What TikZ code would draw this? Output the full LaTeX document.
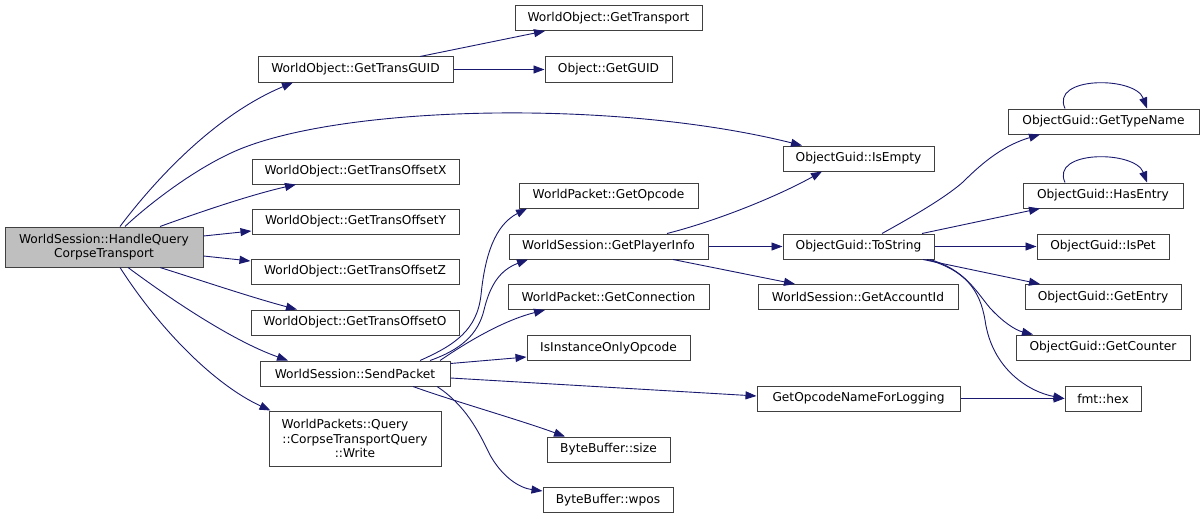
\documentclass[tikz,border=0pt]{standalone}
\usepackage{fontspec}
\setmainfont{DejaVu Sans}
\usetikzlibrary{arrows.meta,calc}
\definecolor{edgeblue}{HTML}{191970}
\definecolor{boxline}{HTML}{404040}
\definecolor{boxfill}{HTML}{BFBFBF}
\begin{document}
\begin{tikzpicture}[x=1pt,y=-1pt,
  box/.style={draw=boxline,line width=1pt,fill=white,inner sep=0pt,minimum height=25pt,align=center,
    font=\fontsize{12.2}{14.5}\selectfont},
  rootbox/.style={box,fill=boxfill},
  call/.style={draw=edgeblue,line width=0.9pt,-{Triangle[length=11pt,width=8pt]}}]
\useasboundingbox (0,0) rectangle (1204,519);
% nodes
\node[rootbox,minimum width=198pt,minimum height=40pt] (hq) at (104,247) {WorldSession::HandleQuery\\CorpseTransport};
\node[box,minimum width=195pt] (tgu) at (355.5,69.5) {WorldObject::GetTransGUID};
\node[box,minimum width=187pt] (tr) at (608.5,18) {WorldObject::GetTransport};
\node[box,minimum width=127pt] (guid) at (608.5,69.5) {Object::GetGUID};
\node[box,minimum width=151pt] (ie) at (858.5,158.5) {ObjectGuid::IsEmpty};
\node[box,minimum width=207pt] (ox) at (355.5,171.5) {WorldObject::GetTransOffsetX};
\node[box,minimum width=207pt] (oy) at (355.5,221.5) {WorldObject::GetTransOffsetY};
\node[box,minimum width=208pt] (oz) at (355,271.5) {WorldObject::GetTransOffsetZ};
\node[box,minimum width=208pt] (oo) at (355,322.5) {WorldObject::GetTransOffsetO};
\node[box,minimum width=190pt] (sp) at (355,373.5) {WorldSession::SendPacket};
\node[box,minimum width=172pt,minimum height=55pt] (wr) at (355,438.5) {WorldPackets::Query\hspace*{20pt}\\::CorpseTransportQuery\\::Write};
\node[box,minimum width=179pt] (op) at (608.5,195.5) {WorldPacket::GetOpcode};
\node[box,minimum width=199pt] (pi) at (608.5,246.5) {WorldSession::GetPlayerInfo};
\node[box,minimum width=201pt] (con) at (608.5,297) {WorldPacket::GetConnection};
\node[box,minimum width=163pt] (ioo) at (608.5,348) {IsInstanceOnlyOpcode};
\node[box,minimum width=123pt] (sz) at (608.5,449.5) {ByteBuffer::size};
\node[box,minimum width=130pt] (wp) at (608,500) {ByteBuffer::wpos};
\node[box,minimum width=151pt] (ts) at (858.5,246.5) {ObjectGuid::ToString};
\node[box,minimum width=200pt] (acc) at (858,297) {WorldSession::GetAccountId};
\node[box,minimum width=203pt] (log) at (858.5,398.5) {GetOpcodeNameForLogging};
\node[box,minimum width=191pt] (tn) at (1103.5,121.5) {ObjectGuid::GetTypeName};
\node[box,minimum width=160pt] (he) at (1103,195.5) {ObjectGuid::HasEntry};
\node[box,minimum width=132pt] (pet) at (1103,246.5) {ObjectGuid::IsPet};
\node[box,minimum width=156pt] (en) at (1103,297) {ObjectGuid::GetEntry};
\node[box,minimum width=174pt] (cnt) at (1103,347.5) {ObjectGuid::GetCounter};
\node[box,minimum width=76pt] (hex) at (1103,398.5) {fmt::hex};
% edges from HandleQueryCorpseTransport
\draw[call] ($(hq.north)+(16,0)$) .. controls (155,180) and (215,115) .. ($(tgu.south)+(-62.5,0)$);
\draw[call] ($(hq.north)+(21,0)$) .. controls (150,203) and (203,162) .. (248,146)
  .. controls (360,105) and (620,100) .. ($(ie.north)+(-56.5,0)$);
\draw[call] ($(hq.north)+(56,0)$) .. controls (200,212) and (250,195) .. ($(ox.south)+(-59.5,0)$);
\draw[call] ($(hq.east)+(0,-11)$) -- ($(oy.west)+(0,9.5)$);
\draw[call] ($(hq.east)+(0,9)$) -- ($(oz.west)+(0,-10.5)$);
\draw[call] ($(hq.south)+(56,0)$) .. controls (200,280) and (250,297) .. ($(oo.north)+(-58,0)$);
\draw[call] ($(hq.south)+(24,0)$) .. controls (165,295) and (230,340) .. ($(sp.north)+(-67,0)$);
\draw[call] ($(hq.south)+(16,0)$) .. controls (160,330) and (215,385) .. ($(wr.north west)+(2,0)$);
% GetTransGUID
\draw[call] ($(tgu.north)+(64.5,0)$) -- ($(tr.south)+(-63.5,0)$);
\draw[call] (tgu.east) -- (guid.west);
% SendPacket
\draw[call] ($(sp.north)+(65,0)$) .. controls (455,345) and (477,330) .. (481,295)
  .. controls (485,255) and (495,225) .. ($(op.south)+(-81.5,0)$);
\draw[call] ($(sp.north)+(75,0)$) .. controls (460,350) and (478,335) .. (484,310)
  .. controls (490,285) and (500,270) .. ($(pi.south)+(-80.5,0)$);
\draw[call] ($(sp.north)+(85,0)$) .. controls (470,340) and (505,320) .. ($(con.south)+(-63.5,0)$);
\draw[call] ($(sp.east)+(0,-10)$) -- ($(ioo.west)+(0,9)$);
\draw[call] ($(sp.east)+(0,4.5)$) -- ($(log.west)+(0,-2.5)$);
\draw[call] ($(sp.south)+(58,0)$) .. controls (450,400) and (520,420) .. ($(sz.north)+(-43.5,0)$);
\draw[call] ($(sp.south)+(82,0)$) .. controls (465,405) and (478,430) .. (490,455)
  .. controls (503,478) and (520,488) .. ($(wp.west)+(0,-9)$);
% GetPlayerInfo
\draw[call] ($(pi.north)+(58.5,0)$) .. controls (720,220) and (780,195) .. ($(ie.south)+(-36.5,0)$);
\draw[call] (pi.east) -- (ts.west);
\draw[call] ($(pi.south)+(64.5,0)$) -- ($(acc.north)+(-63,0)$);
% ToString
\draw[call] ($(ts.north)+(23.5,0)$) .. controls (910,218) and (945,198) .. (963,182)
  .. controls (985,160) and (1005,145) .. ($(tn.south)+(-63.5,0)$);
\draw[call] ($(ts.north)+(63.5,0)$) -- ($(he.south)+(-63,0)$);
\draw[call] (ts.east) -- (pet.west);
\draw[call] ($(ts.south)+(64.5,0)$) -- ($(en.north)+(-63,0)$);
\draw[call] ($(ts.south)+(71.5,0)$) .. controls (965,270) and (975,290) .. (990,308)
  .. controls (1003,322) and (1015,330) .. ($(cnt.north)+(-70,0)$);
\draw[call] ($(ts.south)+(68.5,0)$) .. controls (965,270) and (980,290) .. (985,320)
  .. controls (992,370) and (1030,392) .. (hex.west);
\draw[call] (log.east) -- (hex.west);
% self loops
\draw[call] ($(tn.north)+(-38.5,0)$) .. controls (1050,76) and (1135,76) .. ($(tn.north)+(43.5,0)$);
\draw[call] ($(he.north)+(-38,0)$) .. controls (1050,150) and (1135,150) .. ($(he.north)+(44,0)$);
\end{tikzpicture}
\end{document}
